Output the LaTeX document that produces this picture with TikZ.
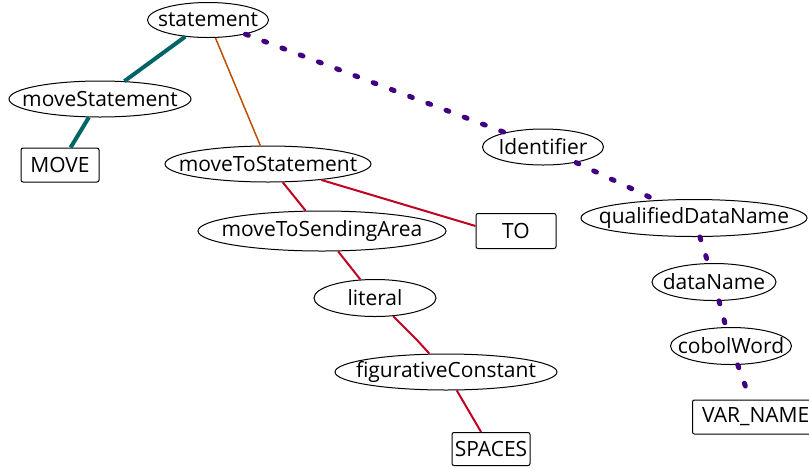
\documentclass[tikz,border=0pt]{standalone}
\usepackage{fontspec}
\setmainfont{Open Sans}
\usetikzlibrary{shapes.geometric}
\definecolor{tealc}{HTML}{006464}
\definecolor{orangec}{HTML}{C05000}
\definecolor{crimc}{HTML}{C00020}
\definecolor{purpc}{HTML}{400080}
\tikzset{
  ell/.style={ellipse, draw=black, line width=1pt, fill=white, inner sep=0pt},
  lbl/.style={inner sep=0pt, font=\fontsize{21}{24}\selectfont},
  tbox/.style={rectangle, rounded corners=2pt, draw=black, line width=1pt, fill=white, inner sep=0pt},
  tealedge/.style={draw=tealc, line width=4pt},
  orangeedge/.style={draw=orangec, line width=1.5pt},
  crimedge/.style={draw=crimc, line width=2pt},
  purpedge/.style={draw=purpc, line width=5pt, line cap=round, dash pattern=on 3pt off 16.5pt},
}
\begin{document}
\begin{tikzpicture}[x=1pt, y=-1pt]
\clip (0,0) rectangle (809,467);
\useasboundingbox (0,0) rectangle (809,467);
\coordinate (sC) at (208,20);
\coordinate (msC) at (100,99);
\coordinate (mvC) at (60,165);
\coordinate (mtsC) at (268,164);
\coordinate (msaC) at (322,231);
\coordinate (toC) at (516,231);
\coordinate (litC) at (375,298);
\coordinate (fcC) at (446,372);
\coordinate (spC) at (491,449);
\coordinate (idC) at (543,147);
\coordinate (qdnC) at (694,218);
\coordinate (dnC) at (714,282);
\coordinate (cwC) at (731,346);
% nodes
\node[ell, minimum width=121pt, minimum height=35pt] (statement) at (sC) {};
\node[lbl] at (statement) {statement};
\node[ell, minimum width=182pt, minimum height=36pt] (moveStatement) at (msC) {};
\node[lbl] at (moveStatement) {moveStatement};
\node[tbox, minimum width=78pt, minimum height=34pt] (MOVE) at (mvC) {};
\node[lbl] at (MOVE) {MOVE};
\node[ell, minimum width=206pt, minimum height=36pt] (moveToStatement) at (mtsC) {};
\node[lbl] at (moveToStatement) {moveToStatement};
\node[ell, minimum width=248pt, minimum height=40pt] (moveToSendingArea) at (msaC) {};
\node[lbl] at (moveToSendingArea) {moveToSendingArea};
\node[tbox, minimum width=80pt, minimum height=35pt] (TO) at (toC) {};
\node[lbl] at (TO) {TO};
\node[ell, minimum width=122pt, minimum height=37pt] (literal) at (litC) {};
\node[lbl] at (literal) {literal};
\node[ell, minimum width=222pt, minimum height=36pt] (figurativeConstant) at (fcC) {};
\node[lbl] at (figurativeConstant) {figurativeConstant};
\node[tbox, minimum width=78pt, minimum height=33pt] (SPACES) at (spC) {};
\node[lbl] at (SPACES) {SPACES};
\node[ell, minimum width=121pt, minimum height=36pt] (Identifier) at (idC) {};
\node[lbl] at (Identifier) {Identifier};
\node[ell, minimum width=226pt, minimum height=37pt] (qualifiedDataName) at (qdnC) {};
\node[lbl] at (qualifiedDataName) {qualifiedDataName};
\node[ell, minimum width=124pt, minimum height=37pt] (dataName) at (dnC) {};
\node[lbl] at (dataName) {dataName};
\node[ell, minimum width=121pt, minimum height=37pt] (cobolWord) at (cwC) {};
\node[lbl] at (cobolWord) {cobolWord};
\node[tbox, minimum width=128pt, minimum height=34pt, anchor=west] (VARNAME) at (692,417) {};
\node[lbl, anchor=west] at (702,417) {VAR\_NAME};
\coordinate (kink) at (417,340);
% connectors
\draw[tealedge] (statement) -- (moveStatement);
\draw[tealedge] (moveStatement) -- (MOVE);
\draw[orangeedge] (statement) -- (moveToStatement);
\draw[crimedge] (moveToStatement) -- (moveToSendingArea);
\draw[crimedge] (moveToStatement) -- ([yshift=5pt]TO.west);
\draw[crimedge] (moveToSendingArea) -- (literal);
\draw[crimedge] (literal) -- (kink) -- (figurativeConstant);
\draw[crimedge] (figurativeConstant) -- (SPACES);
\draw[purpedge] (statement) -- (Identifier);
\draw[purpedge] (Identifier) -- (qualifiedDataName);
\draw[purpedge] (qualifiedDataName) -- (dataName);
\draw[purpedge] (dataName) -- (cobolWord);
\draw[purpedge] (cobolWord) -- (VARNAME);
\end{tikzpicture}
\end{document}
